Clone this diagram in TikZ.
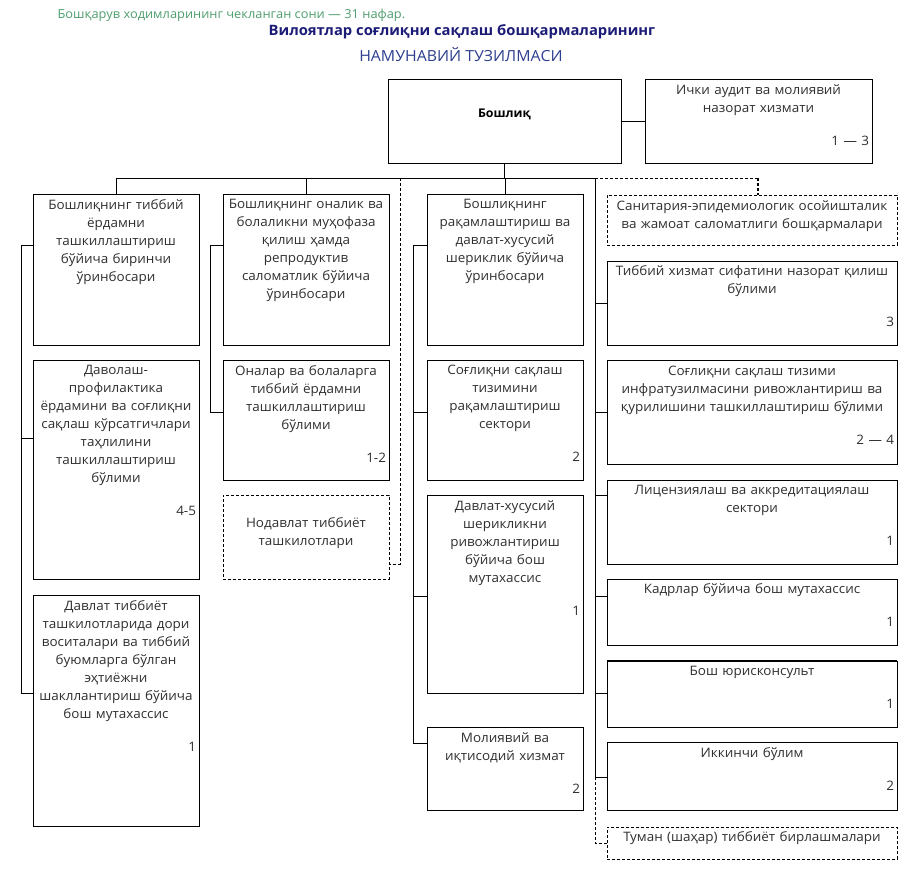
\documentclass[tikz,border=0pt]{standalone}
\usepackage{fontspec}
\setmainfont[FakeStretch=1.035]{Open Sans}
\usetikzlibrary{calc}

\definecolor{notegreen}{HTML}{4E9E6E}
\definecolor{titlenavy}{HTML}{1C1C78}
\definecolor{titleblue}{HTML}{2E3F8F}
\definecolor{txt}{HTML}{2F2F2F}

\begin{document}
\begin{tikzpicture}[x=1pt, y=-1pt,
    box/.style={draw, line width=0.9pt, anchor=north west, inner sep=0pt, outer sep=0pt},
    dbox/.style={box, dash pattern=on 3pt off 2pt},
    boxtext/.style={anchor=north, text width=#1, align=center, inner sep=0pt, text=txt, font=\fontsize{13}{18}\selectfont},
    link/.style={line width=0.9pt},
    dlink/.style={link, dash pattern=on 3pt off 2pt}
]
    \fill[white] (0,0) rectangle (913,870);
    \useasboundingbox (0,0) rectangle (913,870);

    % Header
    \node[anchor=west, text=notegreen, font=\fontsize{12.4}{14}\selectfont] (note) at (54,15) {Бошқарув ходимларининг чекланган сони — 31 нафар.};
    \node[text=titlenavy, font=\bfseries\fontsize{14.3}{16}\selectfont] (title) at (462,32) {Вилоятлар соғлиқни сақлаш бошқармаларининг};
    \node[text=titleblue, font=\fontsize{15.3}{18}\selectfont] (subtitle) at (461,55) {НАМУНАВИЙ ТУЗИЛМАСИ};

    % Boxes
    \node[box, minimum width=233pt, minimum height=84pt] (boss) at (388,79) {};
    \node[font=\bfseries\fontsize{12}{14}\selectfont] (bosst) at ([yshift=7pt]boss.center) {Бошлиқ};
    \node[box, minimum width=227pt, minimum height=84pt] (audit) at (645,79) {};
    \node[boxtext=221pt] (auditt) at ([yshift=-5pt]audit.north) {Ички аудит ва молиявий\\назорат хизмати\\[15pt]\hspace*{\fill}1 — 3};

    % first column
    \node[box, minimum width=166pt, minimum height=151pt] (d1) at (33,194) {};
    \node[boxtext=160pt] (d1t) at ([yshift=-5pt]d1.north) {Бошлиқнинг тиббий\\ёрдамни\\ташкиллаштириш\\бўйича биринчи\\ўринбосари};
    \node[box, minimum width=166pt, minimum height=219pt] (d2) at (33,360) {};
    \node[boxtext=160pt] (d2t) at ([yshift=-5pt]d2.north) {Даволаш-\\профилактика\\ёрдамини ва соғлиқни\\сақлаш кўрсатгичлари\\таҳлилини\\ташкиллаштириш\\бўлими\\[15pt]\hspace*{\fill}4-5};
    \node[box, minimum width=166pt, minimum height=231pt] (d3) at (33,595) {};
    \node[boxtext=160pt] (d3t) at ([yshift=-5pt]d3.north) {Давлат тиббиёт\\ташкилотларида дори\\воситалари ва тиббий\\буюмларга бўлган\\эҳтиёжни\\шакллантириш бўйича\\бош мутахассис\\[15pt]\hspace*{\fill}1};

    % second column
    \node[box, minimum width=166pt, minimum height=151pt] (o1) at (223,194) {};
    \node[boxtext=160pt] (o1t) at ([yshift=-5pt]o1.north) {Бошлиқнинг оналик ва\\болаликни муҳофаза\\қилиш ҳамда\\репродуктив\\саломатлик бўйича\\ўринбосари};
    \node[box, minimum width=166pt, minimum height=120pt] (o2) at (223,360) {};
    \node[boxtext=160pt] (o2t) at ([yshift=-5pt]o2.north) {Оналар ва болаларга\\тиббий ёрдамни\\ташкиллаштириш\\бўлими\\[15pt]\hspace*{\fill}1-2};
    \node[dbox, minimum width=166pt, minimum height=84pt] (o3) at (223,495) {};
    \node[boxtext=160pt] (o3t) at ([yshift=-22pt]o3.north) {Нодавлат тиббиёт\\ташкилотлари};

    % third column
    \node[box, minimum width=156pt, minimum height=151pt] (r1) at (427,194) {};
    \node[boxtext=150pt] (r1t) at ([yshift=-5pt]r1.north) {Бошлиқнинг\\рақамлаштириш ва\\давлат-хусусий\\шериклик бўйича\\ўринбосари};
    \node[box, minimum width=156pt, minimum height=120pt] (r2) at (427,360) {};
    \node[boxtext=150pt] (r2t) at ([yshift=-5pt]r2.north) {Соғлиқни сақлаш\\тизимини\\рақамлаштириш\\сектори\\[15pt]\hspace*{\fill}2};
    \node[box, minimum width=156pt, minimum height=198pt] (r3) at (427,495) {};
    \node[boxtext=150pt] (r3t) at ([yshift=-5pt]r3.north) {Давлат-хусусий\\шерикликни\\ривожлантириш\\бўйича бош\\мутахассис\\[15pt]\hspace*{\fill}1};
    \node[box, minimum width=156pt, minimum height=83pt] (r4) at (427,727) {};
    \node[boxtext=150pt] (r4t) at ([yshift=-5pt]r4.north) {Молиявий ва\\иқтисодий хизмат\\[15pt]\hspace*{\fill}2};

    % right column
    \node[dbox, minimum width=290pt, minimum height=50pt] (s1) at (607,195) {};
    \node[boxtext=284pt] (s1t) at ([yshift=-5pt]s1.north) {Санитария-эпидемиологик осойишталик\\ва жамоат саломатлиги бошқармалари};
    \node[box, minimum width=290pt, minimum height=84pt] (s2) at (607,261) {};
    \node[boxtext=284pt] (s2t) at ([yshift=-4pt]s2.north) {Тиббий хизмат сифатини назорат қилиш\\бўлими\\[15pt]\hspace*{\fill}3};
    \node[box, minimum width=290pt, minimum height=104pt] (s3) at (607,360) {};
    \node[boxtext=284pt] (s3t) at ([yshift=-6pt]s3.north) {Соғлиқни сақлаш тизими\\инфратузилмасини ривожлантириш ва\\қурилишини ташкиллаштириш бўлими\\[15pt]\hspace*{\fill}2 — 4};
    \node[box, minimum width=290pt, minimum height=84pt] (s4) at (607,480) {};
    \node[boxtext=284pt] (s4t) at ([yshift=-5pt]s4.north) {Лицензиялаш ва аккредитациялаш\\сектори\\[15pt]\hspace*{\fill}1};
    \node[box, minimum width=290pt, minimum height=66pt] (s5) at (607,579) {};
    \node[boxtext=284pt] (s5t) at ([yshift=-4pt]s5.north) {Кадрлар бўйича бош мутахассис\\[15pt]\hspace*{\fill}1};
    \node[box, minimum width=290pt, minimum height=66pt] (s6) at (607,661) {};
    \node[boxtext=284pt] (s6t) at ([yshift=-5pt]s6.north) {Бош юрисконсульт\\[15pt]\hspace*{\fill}1};
    \draw[line width=1.8pt] (s6.north west) -- (s6.north east);
    \node[box, minimum width=290pt, minimum height=68pt] (s7) at (607,742) {};
    \node[boxtext=284pt] (s7t) at ([yshift=-5pt]s7.north) {Иккинчи бўлим\\[15pt]\hspace*{\fill}2};
    \node[dbox, minimum width=290pt, minimum height=32pt] (s8) at (607,827) {};
    \node[boxtext=284pt] (s8t) at ([yshift=-4pt]s8.north) {Туман (шаҳар) тиббиёт бирлашмалари};

    % Links
    \coordinate (hub) at (504.5,178);
    \coordinate (busE) at (595,178);
    \coordinate (busD) at (400,178);
    \coordinate (busS) at (758,178);
    \coordinate (nd) at (400,564);
    \draw[link] (boss.east) -- (audit.west);
    \draw[link] (boss.south) -- (boss.south |- hub);
    \draw[link] (d1.north) |- (busE);
    \draw[link] (o1.north) -- (o1.north |- hub);
    \draw[link] (r1.north) -- (r1.north |- hub);
    \draw[dlink] (busE) -- (busS);
    \draw[dlink, line width=1.6pt] (busS) -- (busS |- s1.north);
    \draw[dlink] (busD) -- (nd) -- (nd -| o3.east);

    \draw[link] (d1.west |- 0,245) -- ++(-12,0) |- (d3.west |- 0,693);
    \draw[link] (d2.west |- 0,438) -- ++(-12,0);
    \draw[link] (o1.west |- 0,245) -- ++(-13,0) |- (o2.west |- 0,412);
    \draw[link] (r1.west |- 0,245) -- ++(-14,0) |- (r4.west |- 0,743);
    \draw[link] (r2.west |- 0,412) -- ++(-14,0);
    \draw[link] (r3.west |- 0,596) -- ++(-14,0);

    \draw[link] (busE) |- (s7.west |- 0,777);
    \foreach \n/\y in {s2/303, s3/412, s4/495, s5/596, s6/693}
        \draw[link] (\n.west |- 0,\y) -- (busE |- 0,\y);
    \draw[dlink] (busE |- 0,777) |- (s8.west);
\end{tikzpicture}
\end{document}
